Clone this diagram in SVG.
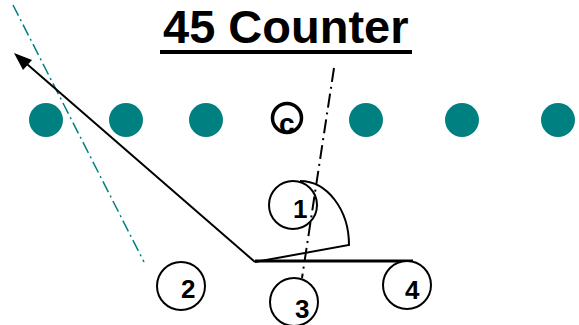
<svg xmlns="http://www.w3.org/2000/svg" width="579" height="325" viewBox="0 0 579 325">
<defs>
<style>
.dot{fill:#008080}
.pl{fill:#fff;stroke:#000;stroke-width:2}
.txt{font-family:"Liberation Sans",Arial,sans-serif;font-weight:bold;fill:#000}
.num{font-size:26px}
.route{fill:none;stroke:#000;stroke-width:2}
</style>
</defs>
<rect width="579" height="325" fill="#fff"/>
<g id="title">
<text class="txt" x="163" y="43" font-size="47">45 Counter</text>
<rect x="160" y="50" width="252" height="4" fill="#000"/>
</g>
<g id="defense">
<circle class="dot" cx="46" cy="120" r="17"/>
<circle class="dot" cx="126" cy="120" r="17"/>
<circle class="dot" cx="206" cy="120" r="17"/>
<circle class="dot" cx="366" cy="120" r="17"/>
<circle class="dot" cx="462" cy="120" r="17"/>
<circle class="dot" cx="558" cy="120" r="17"/>
</g>
<g id="center">
<circle cx="287" cy="118" r="14.5" fill="#fff" stroke="#000" stroke-width="3.5"/>
<text class="txt" x="279" y="133" font-size="28">c</text>
</g>
<g id="connectors">
<line x1="13" y1="5" x2="144" y2="262" stroke="#008080" stroke-width="1.5" stroke-dasharray="12 4 2 4"/>
<line x1="334" y1="68" x2="302" y2="278" stroke="#000" stroke-width="2" stroke-dasharray="14 5 2 5"/>
<path class="route" d="M255,262 L349,245 A49,64 0 0 0 300,181"/>
<line x1="255" y1="262" x2="20" y2="58" stroke="#000" stroke-width="2"/>
<path d="M14,53 L32,60 L23,70 Z" fill="#000"/>
<line x1="255" y1="261" x2="413" y2="261" stroke="#000" stroke-width="3"/>
</g>
<g id="p1">
<circle cx="293" cy="205" r="24" fill="none" stroke="#000" stroke-width="2"/>
<text class="txt num" x="293" y="218">1</text>
</g>
<g id="p2">
<circle class="pl" cx="181" cy="286" r="24"/>
<text class="txt num" x="181" y="298">2</text>
</g>
<g id="p3">
<circle class="pl" cx="294" cy="302" r="24"/>
<text class="txt num" x="295" y="318">3</text>
</g>
<g id="p4">
<circle class="pl" cx="407" cy="285" r="24"/>
<text class="txt num" x="405" y="299">4</text>
</g>
</svg>
